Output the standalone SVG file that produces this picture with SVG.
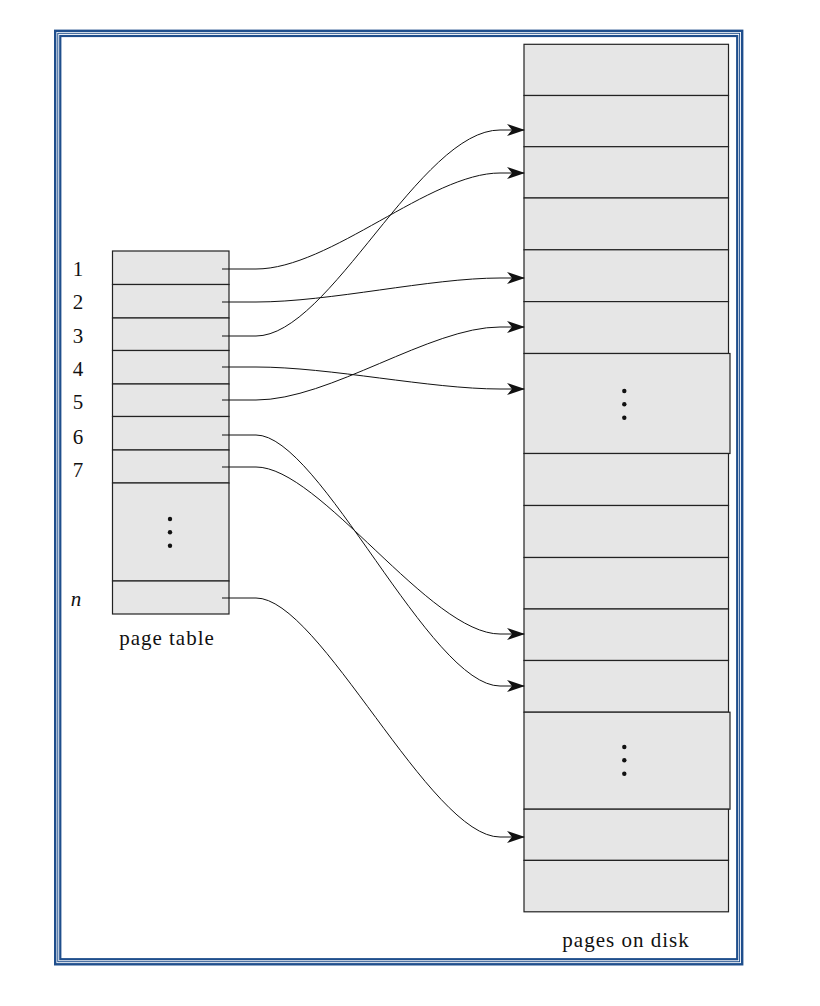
<svg xmlns="http://www.w3.org/2000/svg" width="820" height="1006" viewBox="0 0 820 1006">
<style>
.frame{fill:none;stroke:#1f4e8c}
.cell{fill:#e6e6e6;stroke:#222;stroke-width:1.2}
.lbl{font-family:"Liberation Serif","DejaVu Serif",serif;font-size:21px;fill:#111}
.cap{letter-spacing:1px}
.conn{fill:none;stroke:#111;stroke-width:1;marker-end:url(#arr)}
.dot{fill:#111}
</style>
<defs>
<marker id="arr" markerUnits="userSpaceOnUse" markerWidth="18" markerHeight="12" viewBox="0 0 18 12" refX="17" refY="6" orient="auto">
<path d="M0,0 L18,6 L0,12 L5,6 Z" fill="#111"/>
</marker>
</defs>
<rect width="820" height="1006" fill="#fff"/>
<g id="frame">
<rect class="frame" x="55.2" y="30.8" width="687" height="933.5" stroke-width="2.4"/>
<rect class="frame" x="57.8" y="33.3" width="681.8" height="928.4" stroke-width="1"/>
<rect class="frame" x="60.3" y="36" width="676.9" height="923.2" stroke-width="2.2"/>
</g>
<g id="page-table">
<rect class="cell" x="112.5" y="251" width="116.5" height="33.5"/>
<rect class="cell" x="112.5" y="284.5" width="116.5" height="33.5"/>
<rect class="cell" x="112.5" y="318" width="116.5" height="32.5"/>
<rect class="cell" x="112.5" y="350.5" width="116.5" height="33.5"/>
<rect class="cell" x="112.5" y="384" width="116.5" height="32.5"/>
<rect class="cell" x="112.5" y="416.5" width="116.5" height="33.5"/>
<rect class="cell" x="112.5" y="450" width="116.5" height="33"/>
<rect class="cell" x="112.5" y="483" width="116.5" height="98"/>
<rect class="cell" x="112.5" y="581" width="116.5" height="33"/>
<circle class="dot" cx="170" cy="519" r="2.2"/>
<circle class="dot" cx="170" cy="532.3" r="2.2"/>
<circle class="dot" cx="170" cy="545.7" r="2.2"/>
<text class="lbl cap" x="167" y="645" text-anchor="middle">page table</text>
</g>
<g id="row-labels">
<text class="lbl" x="78" y="276" text-anchor="middle">1</text>
<text class="lbl" x="78" y="309" text-anchor="middle">2</text>
<text class="lbl" x="78" y="343" text-anchor="middle">3</text>
<text class="lbl" x="78" y="376" text-anchor="middle">4</text>
<text class="lbl" x="78" y="409" text-anchor="middle">5</text>
<text class="lbl" x="78" y="444" text-anchor="middle">6</text>
<text class="lbl" x="78" y="477" text-anchor="middle">7</text>
<text class="lbl" x="76" y="606" text-anchor="middle" font-style="italic">n</text>
</g>
<g id="disk">
<rect class="cell" x="524" y="44.3" width="204.5" height="51.2"/>
<rect class="cell" x="524" y="95.5" width="204.5" height="51.2"/>
<rect class="cell" x="524" y="146.7" width="204.5" height="51.3"/>
<rect class="cell" x="524" y="198" width="204.5" height="51.8"/>
<rect class="cell" x="524" y="249.8" width="204.5" height="51.8"/>
<rect class="cell" x="524" y="301.6" width="204.5" height="51.9"/>
<rect class="cell" x="524" y="353.5" width="206" height="100"/>
<rect class="cell" x="524" y="453.5" width="204.5" height="52"/>
<rect class="cell" x="524" y="505.5" width="204.5" height="52"/>
<rect class="cell" x="524" y="557.5" width="204.5" height="51.5"/>
<rect class="cell" x="524" y="609" width="204.5" height="51.5"/>
<rect class="cell" x="524" y="660.5" width="204.5" height="51.7"/>
<rect class="cell" x="524" y="712.2" width="206" height="97"/>
<rect class="cell" x="524" y="809.2" width="204.5" height="51.2"/>
<rect class="cell" x="524" y="860.4" width="204.5" height="51.4"/>
<circle class="dot" cx="624.3" cy="391" r="2.2"/>
<circle class="dot" cx="624.3" cy="404.3" r="2.2"/>
<circle class="dot" cx="624.3" cy="417.7" r="2.2"/>
<circle class="dot" cx="624.3" cy="747" r="2.2"/>
<circle class="dot" cx="624.3" cy="760.3" r="2.2"/>
<circle class="dot" cx="624.3" cy="773.7" r="2.2"/>
<text class="lbl cap" x="626" y="947" text-anchor="middle">pages on disk</text>
</g>
<g id="connectors">
<path class="conn" d="M222,269 H256 C330,269 430,173 500,173 H524"/>
<path class="conn" d="M222,302 H256 C330,302 430,278 500,278 H524"/>
<path class="conn" d="M222,336 H256 C330,336 420,130 500,130 H524"/>
<path class="conn" d="M222,367 H256 C330,367 430,389 500,389 H524"/>
<path class="conn" d="M222,400 H256 C330,400 430,327 500,327 H524"/>
<path class="conn" d="M222,435 H256 C320,435 430,686 500,686 H524"/>
<path class="conn" d="M222,467 H256 C320,467 430,634 500,634 H524"/>
<path class="conn" d="M222,598 H256 C320,598 430,837 500,837 H524"/>
</g>
</svg>
